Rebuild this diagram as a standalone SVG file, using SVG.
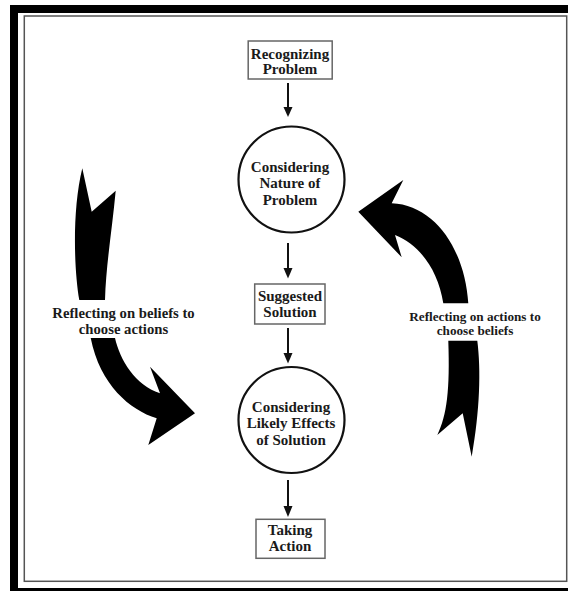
<svg xmlns="http://www.w3.org/2000/svg" width="568" height="591" viewBox="0 0 568 591">
<defs>
<style>
.box{fill:#fff;stroke:#666;stroke-width:1.5}
.circ{fill:#fff;stroke:#111;stroke-width:2.2}
.t{font-family:"Liberation Serif","Times New Roman",serif;font-weight:bold;font-size:15px;fill:#1a1a1a;text-anchor:middle}
.lbl{font-family:"Liberation Serif","Times New Roman",serif;font-weight:bold;fill:#1a1a1a;text-anchor:middle}
.conn{stroke:#111;stroke-width:2;fill:none}
.head{fill:#111}
.big{fill:#000}
</style>
</defs>
<rect x="10" y="5" width="558" height="586" fill="#000"/>
<rect x="18" y="13" width="550" height="575" fill="#fff"/>
<rect x="24.3" y="16" width="542.4" height="565.3" fill="none" stroke="#555" stroke-width="1.5"/>

<g id="connectors">
<path class="conn" d="M288,83 V108"/><path class="head" d="M283.5,107 L292.5,107 L288,117 Z"/>
<path class="conn" d="M288,243 V269"/><path class="head" d="M283.5,268 L292.5,268 L288,278.5 Z"/>
<path class="conn" d="M288,328 V354"/><path class="head" d="M283.5,353 L292.5,353 L288,363.5 Z"/>
<path class="conn" d="M288,480 V507"/><path class="head" d="M283.5,506 L292.5,506 L288,517 Z"/>
</g>

<g id="loop-left">
<path class="big" d="M82.3,168.3 L91.7,211.7 L115.7,190.7 C112,230 106,265 105,300 L79.3,300 C74,270 72,210 82.3,168.3 Z"/>
<path class="big" d="M90.7,338 L115,338 C120,360 135,385 160,393.3 L150,366.7 L195,413.3 L148.3,445 L156.7,418.3 C130,410 100,385 90.7,338 Z"/>
<text class="lbl" font-size="14.7" x="123.5" y="317.5">Reflecting on beliefs to</text>
<text class="lbl" font-size="14.7" x="123.5" y="333.5">choose actions</text>
</g>

<g id="loop-right">
<path class="big" d="M358.3,211.7 L403.3,180 L391.7,203.3 C435,205 465,250 468.3,303.3 L443.3,303.3 C438,270 420,245 395,235 L401.7,257.3 Z"/>
<path class="big" d="M448.3,340.7 L477.3,340.7 C481,370 480,410 471.7,456.7 L462.7,413.3 L437.3,435 C447,415 450,390 448.3,340.7 Z"/>
<text class="lbl" font-size="13.2" x="475" y="320.5">Reflecting on actions to</text>
<text class="lbl" font-size="13.2" x="475" y="335">choose beliefs</text>
</g>

<g id="recognizing">
<rect class="box" x="248.2" y="41" width="84" height="38"/>
<text class="t" x="290" y="58.5">Recognizing</text>
<text class="t" x="290" y="73.5">Problem</text>
</g>

<g id="nature">
<circle class="circ" cx="291.5" cy="179.5" r="53"/>
<text class="t" x="290" y="171.5">Considering</text>
<text class="t" x="290" y="188">Nature of</text>
<text class="t" x="290" y="204.5">Problem</text>
</g>

<g id="suggested">
<rect class="box" x="254.7" y="284" width="70.3" height="40"/>
<text class="t" x="290" y="301">Suggested</text>
<text class="t" x="290" y="317">Solution</text>
</g>

<g id="effects">
<circle class="circ" cx="291.5" cy="420" r="53"/>
<text class="t" x="291" y="411.5">Considering</text>
<text class="t" x="291" y="428">Likely Effects</text>
<text class="t" x="291" y="444.5">of Solution</text>
</g>

<g id="action">
<rect class="box" x="256" y="519.3" width="69" height="39"/>
<text class="t" x="290" y="535">Taking</text>
<text class="t" x="290" y="551">Action</text>
</g>
</svg>
